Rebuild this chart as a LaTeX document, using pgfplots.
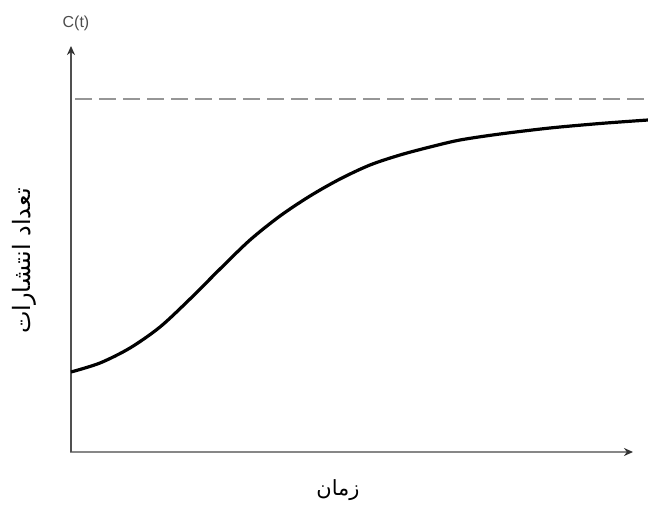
\documentclass[border=0pt]{standalone}
\usepackage{fontspec}
\setmainfont{Liberation Sans}
\newfontfamily\arabicfont[Script=Arabic]{DejaVu Sans}
\TeXXeTstate=1
\usepackage{pgfplots}
\pgfplotsset{compat=1.18}
\usetikzlibrary{arrows.meta}
\definecolor{axgray}{RGB}{135,135,135}
\definecolor{axdark}{RGB}{80,80,80}
\definecolor{dashgray}{RGB}{150,150,150}
\begin{document}
\begin{tikzpicture}
\useasboundingbox (0,0) rectangle (648bp,505bp);
\begin{axis}[
  at={(0,0)}, anchor=south west,
  x=1bp, y=1bp,
  xmin=0, xmax=648, ymin=0, ymax=505,
  hide axis, clip=false,
]
% dashed asymptote
\addplot[dashgray, line width=2.5bp, dash pattern=on 17bp off 7bp] coordinates {(75,406) (648,406)};
% axes
\addplot[axgray, line width=2.2bp, -{Stealth[length=9bp,width=8bp,color=black!80]}] coordinates {(70,53) (633,53)};
\addplot[axdark, line width=2.2bp, -{Stealth[length=9bp,width=8bp,color=black!80]}] coordinates {(71,53) (71,459)};
% curve
\addplot[black, line width=3.2bp, smooth] coordinates {
(71,133) (100,142) (130,157) (160,178) (190,206) (220,236) (250,265)
(280,289) (310,309) (340,326) (370,340) (400,350) (430,358) (460,365)
(500,371) (550,377) (600,381.5) (648,385)
};
\node[text=black!70, font=\fontsize{16}{18}\selectfont] at (axis cs:76,482) {C(t)};
\node[text=black!70, font=\fontsize{16}{18}\selectfont] at (axis cs:656,57) {t};
\node[font=\fontsize{21}{24}\selectfont] at (axis cs:338,15) {\arabicfont\beginR زمان\endR};
\node[rotate=90, font=\fontsize{24}{27}\selectfont] at (axis cs:24,244) {\arabicfont\beginR تعداد انتشارات\endR};
\end{axis}
\end{tikzpicture}
\end{document}
